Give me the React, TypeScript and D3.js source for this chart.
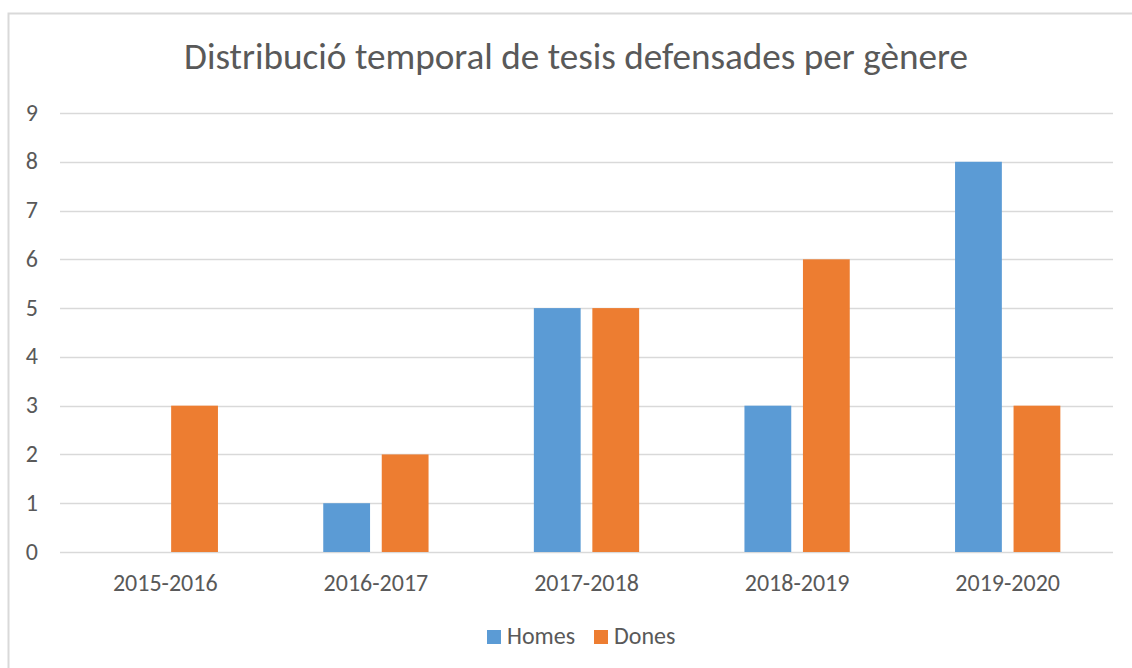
import React, { useEffect, useRef } from "react";
import * as d3 from "d3";

const title = "Distribució temporal de tesis defensades per gènere";
const categories = ["2015-2016", "2016-2017", "2017-2018", "2018-2019", "2019-2020"];
const seriesNames = ["Homes", "Dones"];
const homes = [0, 1, 5, 3, 8];
const dones = [3, 2, 5, 6, 3];
const colors = ["#5B9BD5", "#ED7D31"];
const yTicks = [0, 1, 2, 3, 4, 5, 6, 7, 8, 9];

const width = 1132;
const height = 668;
const font = "Calibri, Carlito, 'Open Sans', sans-serif";

const App = () => {
  const ref = useRef<SVGSVGElement>(null);

  useEffect(() => {
    const svg = d3.select(ref.current);
    svg.selectAll("*").remove();

    const values = [homes, dones];
    const left = 60, right = 1113, top = 113, bottom = 552;

    const x0 = d3.scaleBand().domain(categories).range([left, right]).paddingInner(0.5).paddingOuter(0.25);
    const x1 = d3.scaleBand().domain(seriesNames).range([0, x0.bandwidth()]).paddingInner(0.2);
    const y = d3.scaleLinear().domain([0, 9]).range([bottom, top]);

    // chart border (right and bottom edges fall outside the picture)
    svg.append("rect")
      .attr("x", 8.5).attr("y", 13.5)
      .attr("width", 1140).attr("height", 680)
      .attr("fill", "#fff").attr("stroke", "#d9d9d9").attr("stroke-width", 2);

    svg.append("text")
      .attr("x", 576).attr("y", 69)
      .attr("text-anchor", "middle")
      .attr("font-family", font).attr("font-size", 37.2).attr("font-weight", 300)
      .attr("fill", "#595959")
      .text(title);

    // gridlines
    svg.append("g").selectAll("line").data(yTicks).enter().append("line")
      .attr("x1", left).attr("x2", right)
      .attr("y1", (d) => Math.round(y(d)) + 0.5).attr("y2", (d) => Math.round(y(d)) + 0.5)
      .attr("stroke", "#d9d9d9").attr("stroke-width", 1.5);

    svg.append("g").selectAll("text").data(yTicks).enter().append("text")
      .attr("x", 38).attr("y", (d) => y(d) + 7.5)
      .attr("text-anchor", "end")
      .attr("font-family", font).attr("font-size", 24)
      .attr("fill", "#595959")
      .text((d) => d);

    // bars
    const g = svg.append("g").selectAll("g").data(categories).enter().append("g")
      .attr("transform", (d) => `translate(${x0(d)},0)`);

    seriesNames.forEach((s, si) => {
      g.append("rect")
        .attr("x", x1(s) as number)
        .attr("width", x1.bandwidth())
        .attr("y", (_, i) => y(values[si][i]))
        .attr("height", (_, i) => y(0) - y(values[si][i]))
        .attr("fill", colors[si]);
    });

    svg.append("g").selectAll("text").data(categories).enter().append("text")
      .attr("x", (d) => (x0(d) as number) + x0.bandwidth() / 2)
      .attr("y", 591)
      .attr("text-anchor", "middle")
      .attr("font-family", font).attr("font-size", 24)
      .attr("fill", "#595959")
      .text((d) => d);

    // legend
    const legendX = [487, 594];
    const lg = svg.append("g").selectAll("g").data(seriesNames).enter().append("g")
      .attr("transform", (_, i) => `translate(${legendX[i]},630)`);
    lg.append("rect").attr("width", 14).attr("height", 14).attr("fill", (_, i) => colors[i]);
    lg.append("text")
      .attr("x", 20).attr("y", 13.5)
      .attr("font-family", font).attr("font-size", 24)
      .attr("fill", "#595959")
      .text((d) => d);
  }, []);

  return <svg ref={ref} width={width} height={height} style={{ position: "absolute", left: 0, top: 0 }} />;
};

export default App;
